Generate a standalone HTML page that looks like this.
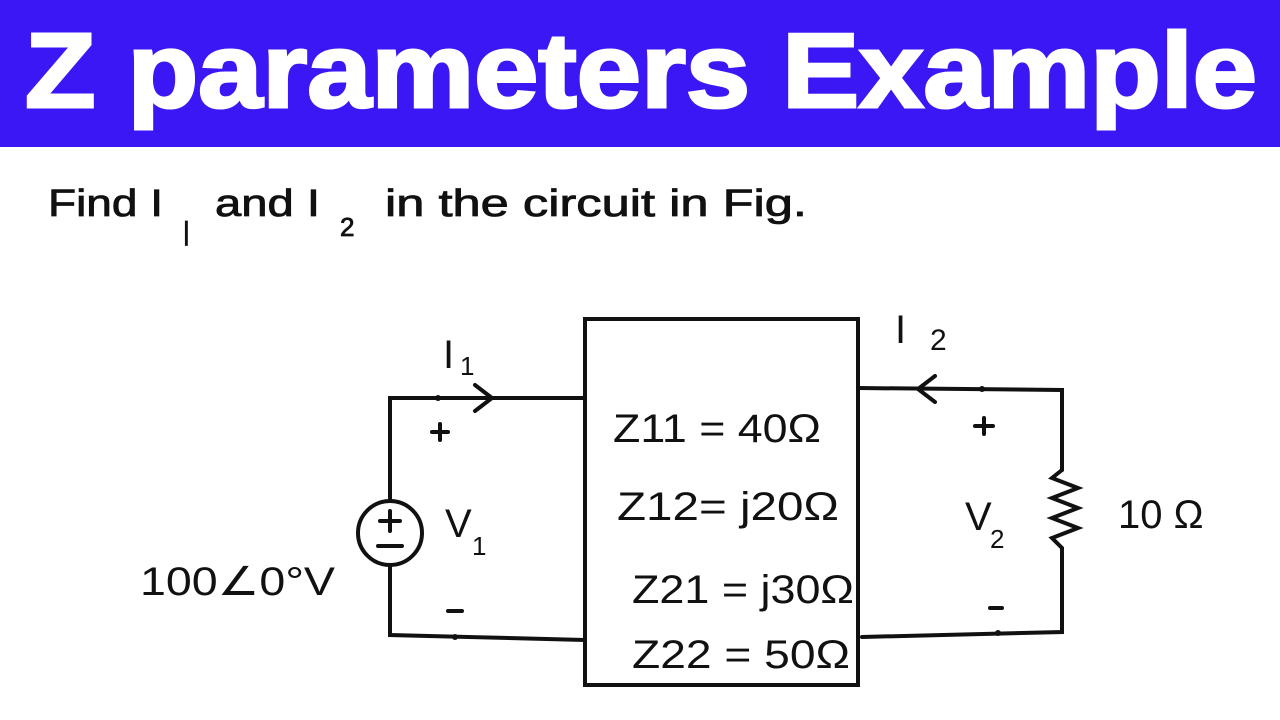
<!DOCTYPE html>
<html><head><meta charset="utf-8"><style>
html,body{margin:0;padding:0;background:#fff;width:1280px;height:720px;overflow:hidden}
</style></head><body>
<svg width="1280" height="720" viewBox="0 0 1280 720" xmlns="http://www.w3.org/2000/svg" font-family="Liberation Sans, sans-serif">
<rect x="0" y="0" width="1280" height="147" fill="#3a17f4"/>
<text x="25" y="107" font-size="106" font-weight="bold" fill="#fff" stroke="#fff" stroke-width="3" textLength="1232" lengthAdjust="spacingAndGlyphs">Z parameters Example</text>
<g font-size="38" fill="#111" stroke="#111" stroke-width="0.8">
<text x="48" y="216" textLength="115" lengthAdjust="spacingAndGlyphs">Find I</text>
<text x="183" y="240" font-size="26">|</text>
<text x="215" y="216" textLength="105" lengthAdjust="spacingAndGlyphs">and I</text>
<text x="340" y="236" font-size="26">2</text>
<text x="385" y="216" textLength="422" lengthAdjust="spacingAndGlyphs">in the circuit in Fig.</text>
</g>
<g stroke="#111" stroke-width="4" fill="none" stroke-linecap="round">
<rect x="585" y="319" width="273" height="366"/>
<path d="M585 398 L390 398 L390 500"/>
<path d="M390 565 L390 635 L585 640"/>
<circle cx="390" cy="533" r="32"/>
<path d="M475 385 L492 398 L475 411"/>
<path d="M858 388 L1062 390 L1062 470"/>
<path d="M1062 470 L1052 478 L1078 488 L1052 498 L1078 508 L1052 518 L1078 528 L1052 538 L1062 548 L1062 632 L862 637"/>
<path d="M935 376 L918 389 L935 402"/>
<path d="M432 432 L448 432 M440 424 L440 440"/>
<path d="M975 426 L993 426 M984 418 L984 434"/>
<path d="M448 611 L462 611"/>
<path d="M990 608 L1002 608"/>
<path d="M380 521 L400 521 M390 511 L390 531 M378 546 L402 546"/>
</g>
<g fill="#111">
<circle cx="438" cy="398" r="3"/><circle cx="455" cy="637" r="3"/>
<circle cx="982" cy="389" r="3"/><circle cx="998" cy="633" r="3"/>
</g>
<g font-size="40" fill="#111" font-family="Liberation Sans, sans-serif">
<text x="443" y="368">I</text><text x="460" y="375" font-size="26">1</text>
<text x="895" y="343">I</text><text x="930" y="350" font-size="30">2</text>
<text x="445" y="537">V</text><text x="472" y="555" font-size="26">1</text>
<text x="965" y="530">V</text><text x="990" y="548" font-size="26">2</text>
<text x="1118" y="528">10 Ω</text>
<text x="140" y="595" textLength="195" lengthAdjust="spacingAndGlyphs">100∠0°V</text>
<text x="613" y="442" textLength="208" lengthAdjust="spacingAndGlyphs">Z11 = 40Ω</text>
<text x="617" y="520" textLength="222" lengthAdjust="spacingAndGlyphs">Z12= j20Ω</text>
<text x="632" y="603" textLength="222" lengthAdjust="spacingAndGlyphs">Z21 = j30Ω</text>
<text x="632" y="668" textLength="218" lengthAdjust="spacingAndGlyphs">Z22 = 50Ω</text>
</g>
</svg>
</body></html>
